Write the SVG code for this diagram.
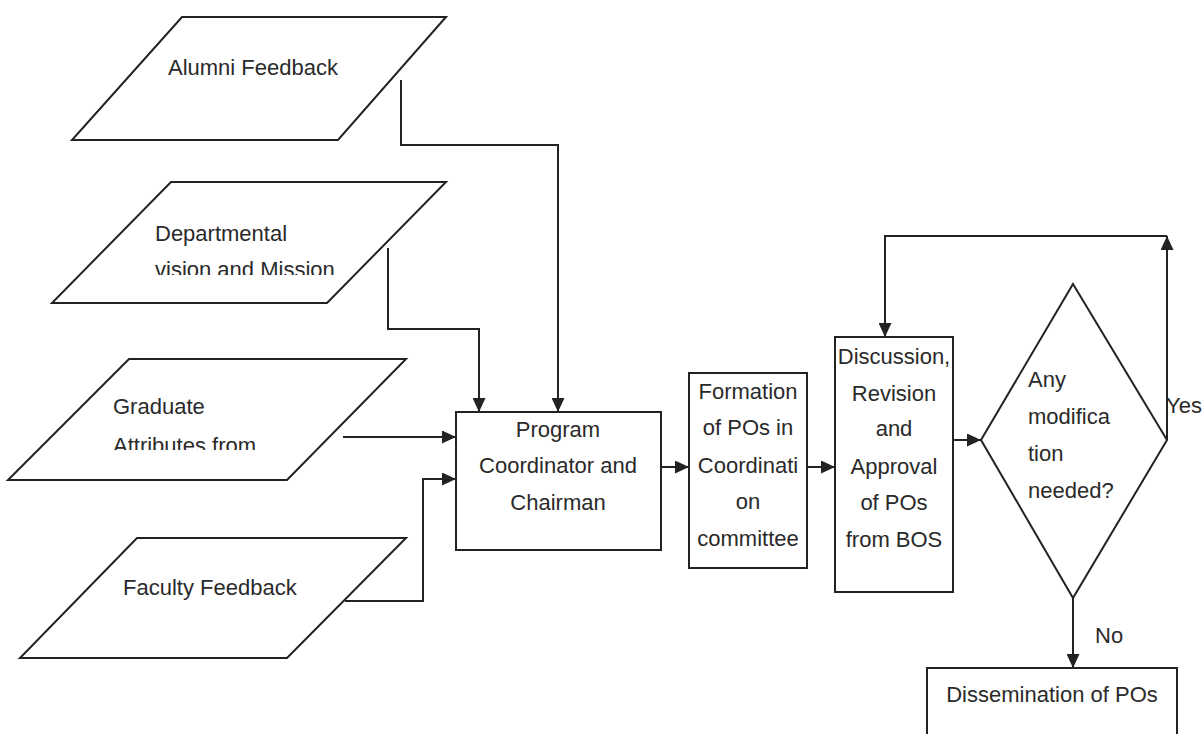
<svg xmlns="http://www.w3.org/2000/svg" width="1202" height="734" viewBox="0 0 1202 734">
<style>
.shape{fill:#fff;stroke:#222;stroke-width:2}
.conn{fill:none;stroke:#222;stroke-width:2}
text{font-family:"Liberation Sans",Arial,sans-serif;font-size:22px;fill:#2a2a2a}
.c{text-anchor:middle}
</style>
<defs>
<marker id="arr" markerUnits="userSpaceOnUse" markerWidth="14" markerHeight="13" refX="14" refY="6.5" orient="auto">
<path d="M0,0 L14,6.5 L0,13 z" fill="#222"/>
</marker>
<clipPath id="clipDept"><rect x="100" y="200" width="300" height="75"/></clipPath>
<clipPath id="clipGrad"><rect x="60" y="380" width="300" height="70"/></clipPath>
</defs>
<rect width="1202" height="734" fill="#fff"/>

<g id="alumni">
<polygon class="shape" points="182,17 446,17 338,140 72,140"/>
<text x="168" y="75">Alumni Feedback</text>
</g>
<g id="departmental">
<polygon class="shape" points="171,182 446,182 327,303 52,303"/>
<g clip-path="url(#clipDept)">
<text x="155" y="241">Departmental</text>
<text x="155" y="277">vision and Mission</text>
</g>
</g>
<g id="graduate">
<polygon class="shape" points="129,359 406,359 287,480 8,480"/>
<g clip-path="url(#clipGrad)">
<text x="113" y="414">Graduate</text>
<text x="113" y="453">Attributes from</text>
</g>
</g>
<g id="faculty">
<polygon class="shape" points="137,538 406,538 287,658 20,658"/>
<text x="123" y="595">Faculty Feedback</text>
</g>
<g id="program">
<rect class="shape" x="456" y="412" width="205" height="138"/>
<text class="c" x="558" y="437">Program</text>
<text class="c" x="558" y="473">Coordinator and</text>
<text class="c" x="558" y="510">Chairman</text>
</g>
<g id="formation">
<rect class="shape" x="689" y="373" width="118" height="195"/>
<text class="c" x="748" y="399">Formation</text>
<text class="c" x="748" y="435">of POs in</text>
<text class="c" x="748" y="473">Coordinati</text>
<text class="c" x="748" y="509">on</text>
<text class="c" x="748" y="546">committee</text>
</g>
<g id="discussion">
<rect class="shape" x="835" y="337" width="118" height="255"/>
<text class="c" x="894" y="364">Discussion,</text>
<text class="c" x="894" y="401">Revision</text>
<text class="c" x="894" y="436">and</text>
<text class="c" x="894" y="474">Approval</text>
<text class="c" x="894" y="510">of POs</text>
<text class="c" x="894" y="547">from BOS</text>
</g>
<g id="decision">
<polygon class="shape" points="1073,284 1167,440 1073,598 981,440"/>
<text x="1028" y="387">Any</text>
<text x="1028" y="424">modifica</text>
<text x="1028" y="461">tion</text>
<text x="1028" y="498">needed?</text>
</g>
<g id="dissemination">
<rect class="shape" x="927" y="668" width="250" height="80"/>
<text class="c" x="1052" y="702">Dissemination of POs</text>
</g>

<g id="connectors">
<path class="conn" d="M401,80 V145 H558 V412" marker-end="url(#arr)"/>
<path class="conn" d="M388,248 V329 H479 V412" marker-end="url(#arr)"/>
<path class="conn" d="M343,437 H456" marker-end="url(#arr)"/>
<path class="conn" d="M345,601 H423 V479 H456" marker-end="url(#arr)"/>
<path class="conn" d="M661,467 H689" marker-end="url(#arr)"/>
<path class="conn" d="M807,467 H835" marker-end="url(#arr)"/>
<path class="conn" d="M953,440 H981" marker-end="url(#arr)"/>
<path class="conn" d="M1167,440 V236" marker-end="url(#arr)"/>
<path class="conn" d="M1167,236 H885 V337" marker-end="url(#arr)"/>
<path class="conn" d="M1073,598 V668" marker-end="url(#arr)"/>
<text x="1166" y="413">Yes</text>
<text x="1095" y="643">No</text>
</g>
</svg>
